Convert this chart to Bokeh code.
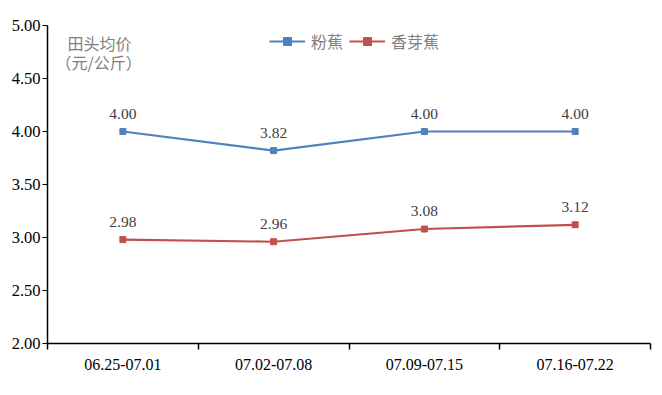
from bokeh.plotting import figure
from bokeh.models import FixedTicker, Range1d, Label, Legend, LegendItem, ColumnDataSource, NumeralTickFormatter
from bokeh.core.properties import value
from bokeh.embed import file_html
from bokeh.resources import INLINE

categories = ["06.25-07.01", "07.02-07.08", "07.09-07.15", "07.16-07.22"]
fenjiao = [4.00, 3.82, 4.00, 4.00]
xiangyajiao = [2.98, 2.96, 3.08, 3.12]
y_ticks = [2.0, 2.5, 3.0, 3.5, 4.0, 4.5, 5.0]

xs = [i + 0.5 for i in range(len(categories))]

p = figure(width=654, height=387, output_backend="svg", toolbar_location=None,
           x_range=Range1d(0, len(categories)), y_range=Range1d(2.0, 5.0),
           min_border_left=47, min_border_right=4, min_border_top=25, min_border_bottom=44)
p.outline_line_color = None
p.xgrid.visible = False
p.ygrid.visible = False
p.background_fill_color = "white"

serif = "Liberation Serif"

# axes
p.yaxis.ticker = FixedTicker(ticks=y_ticks)
p.yaxis.formatter = NumeralTickFormatter(format="0.00")
p.yaxis.major_label_text_font = serif
p.yaxis.major_label_text_font_size = "16.5px"
p.yaxis.major_label_text_color = "black"
p.yaxis.major_tick_out = 5
p.yaxis.major_tick_in = 0
p.yaxis.minor_tick_line_color = None
p.yaxis.axis_line_width = 1.5
p.yaxis.axis_line_color = "black"
p.yaxis.major_tick_line_color = "black"
p.yaxis.major_label_standoff = 2

p.xaxis.ticker = FixedTicker(ticks=xs, minor_ticks=list(range(len(categories) + 1)))
p.xaxis.major_label_overrides = {x: c for x, c in zip(xs, categories)}
p.xaxis.major_label_text_font = serif
p.xaxis.major_label_text_font_size = "16px"
p.xaxis.major_label_text_color = "black"
p.xaxis.major_tick_out = 0
p.xaxis.major_tick_in = 0
p.xaxis.minor_tick_out = 6
p.xaxis.minor_tick_in = 0
p.xaxis.minor_tick_line_color = "black"
p.xaxis.minor_tick_line_width = 1.5
p.xaxis.axis_line_width = 1.5
p.xaxis.axis_line_color = "black"
p.xaxis.major_label_standoff = 9

blue = "#4F81BD"
red = "#C0504D"

src1 = ColumnDataSource(dict(x=xs, y=fenjiao, t=["%.2f" % v for v in fenjiao]))
src2 = ColumnDataSource(dict(x=xs, y=xiangyajiao, t=["%.2f" % v for v in xiangyajiao]))

l1 = p.line("x", "y", source=src1, line_color=blue, line_width=2.2)
m1 = p.scatter("x", "y", source=src1, marker="square", size=6, fill_color=blue, line_color=blue)
l2 = p.line("x", "y", source=src2, line_color=red, line_width=2.2)
m2 = p.scatter("x", "y", source=src2, marker="square", size=6, fill_color=red, line_color=red)

for src in (src1, src2):
    p.text("x", "y", text="t", source=src, text_font=value(serif), text_font_size="15.5px",
           text_color="#404040", text_align="center", text_baseline="bottom", y_offset=-13)

legend = Legend(items=[LegendItem(label="粉蕉", renderers=[l1, m1]),
                       LegendItem(label="香芽蕉", renderers=[l2, m2])],
                orientation="horizontal", location=(222, 290), border_line_color=None,
                background_fill_alpha=0, label_text_font="Noto Sans CJK SC",
                label_text_font_size="16px", label_text_color="#7f7f7f",
                glyph_width=36, spacing=6, label_standoff=6, padding=0, margin=0)
p.add_layout(legend)

p.add_layout(Label(x=20, y=301, x_units="screen", y_units="screen", text="田头均价",
                   text_font="Noto Sans CJK SC", text_font_size="16px", text_color="#7f7f7f",
                   text_baseline="middle"))
p.add_layout(Label(x=8, y=282, x_units="screen", y_units="screen", text="（元/公斤）",
                   text_font="Noto Sans CJK SC", text_font_size="16px", text_color="#7f7f7f",
                   text_baseline="middle"))

open("out.html", "w").write(file_html(p, INLINE))
